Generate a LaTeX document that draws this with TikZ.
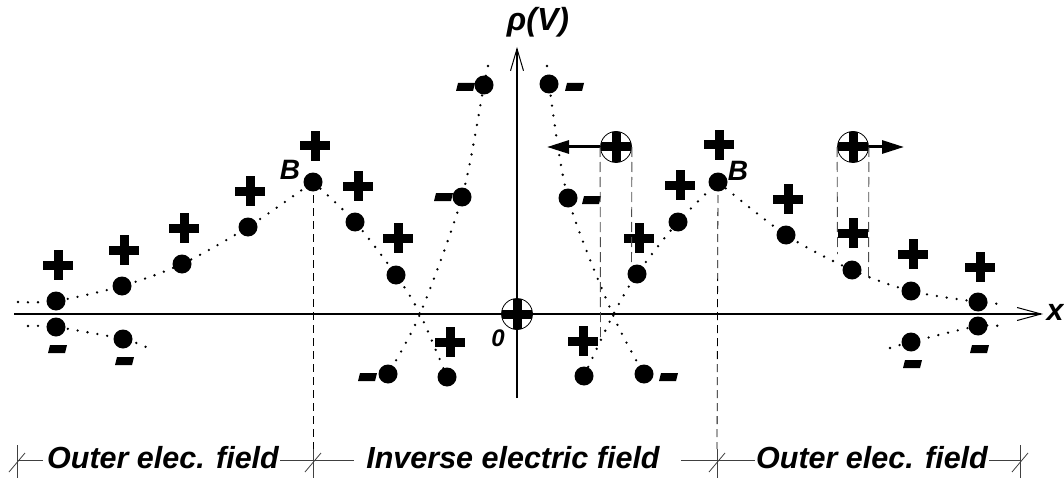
\documentclass[tikz,border=0pt]{standalone}
\usepackage{fontspec}
\setmainfont{Liberation Sans}
\usetikzlibrary{arrows.meta}
\begin{document}
\begin{tikzpicture}[x=1pt,y=-1pt,
  dot/.style={circle,fill=black,inner sep=0pt,minimum size=19pt},
  dotline/.style={line width=2.6pt,line cap=round,dash pattern=on 0pt off 10pt},
  axis/.style={line width=1.3pt},
  bdash/.style={line width=0.8pt,dash pattern=on 8pt off 5pt},
  gdash/.style={line width=0.9pt,draw=black!70,dash pattern=on 10pt off 5pt},
  dimline/.style={line width=0.8pt,draw=black!75},
  lbl/.style={font=\fontsize{30.5}{34}\selectfont\bfseries\itshape,inner sep=0pt},
  charge/.style={circle,draw=black,line width=0.8pt,inner sep=0pt,minimum size=31pt,
    path picture={\fill ([xshift=-15.5pt,yshift=-4.5pt]path picture bounding box.center) rectangle ++(31pt,9pt);
                  \fill ([xshift=-4.5pt,yshift=-15.5pt]path picture bounding box.center) rectangle ++(9pt,31pt);}},
  move/.style={line width=3pt,-{Triangle[length=22pt,width=13pt]}},
  pics/pplus/.style={code={\fill (-15,-4.5) rectangle (15,4.5); \fill (-4.5,-15) rectangle (4.5,15);}},
  pics/mminus/.style={code={\fill (-9,4) -- (8,4) -- (10,-4) -- (-7,-4) -- cycle;}}
]
\useasboundingbox (0,0) rectangle (1064,481);

% positions
\coordinate (e0) at (18,302);   \coordinate (a1) at (56,301);  \coordinate (a2) at (122,286);
\coordinate (a3) at (182,264);  \coordinate (a4) at (248,227); \coordinate (BL) at (313,182);
\coordinate (b1) at (355,222);  \coordinate (b2) at (396,275); \coordinate (xl) at (420,314);
\coordinate (b3) at (447,377);
\coordinate (m0) at (488,66);   \coordinate (m1) at (484,85);  \coordinate (m2) at (462,197);
\coordinate (m3) at (388,374);
\coordinate (n0) at (547,66);   \coordinate (n1) at (549,84);  \coordinate (n2) at (568,198);
\coordinate (xr) at (613,315);  \coordinate (n3) at (644,374);
\coordinate (c3) at (584,376);  \coordinate (c2) at (637,274); \coordinate (c1) at (678,222);
\coordinate (BR) at (718,182);
\coordinate (d1) at (786,235);  \coordinate (d2) at (852,270); \coordinate (d3) at (911,291);
\coordinate (d4) at (978,302);  \coordinate (e1) at (1004,304);
\coordinate (f0) at (28,326);   \coordinate (g1) at (56,327);  \coordinate (g2) at (123,339);
\coordinate (f1) at (146,347);
\coordinate (h0) at (890,348);  \coordinate (k1) at (911,342); \coordinate (k2) at (978,326);
\coordinate (h1) at (1006,327);

% dotted curves
\draw[dotline] plot[smooth,tension=0.5] coordinates {(e0) (a1) (a2) (a3) (a4) (BL)};
\draw[dotline] plot[smooth,tension=0.5] coordinates {(BL) (b1) (b2) (xl) (b3)};
\draw[dotline] plot[smooth,tension=0.5] coordinates {(m0) (m1) (m2) (xl) (m3)};
\draw[dotline] plot[smooth,tension=0.5] coordinates {(n0) (n1) (n2) (xr) (n3)};
\draw[dotline] plot[smooth,tension=0.5] coordinates {(c3) (xr) (c2) (c1) (BR)};
\draw[dotline] plot[smooth,tension=0.5] coordinates {(BR) (d1) (d2) (d3) (d4) (e1)};
\draw[dotline] plot[smooth,tension=0.5] coordinates {(f0) (g1) (g2) (f1)};
\draw[dotline] plot[smooth,tension=0.5] coordinates {(h0) (k1) (k2) (h1)};

% axes
\coordinate (xa0) at (14,314);  \coordinate (xa1) at (1043,314);
\coordinate (ya0) at (517,398); \coordinate (ya1) at (517,47);
\draw[axis,-{Straight Barb[length=24pt,width=13pt,line width=1pt]}] (xa0) -- (xa1);
\draw[axis,-{Straight Barb[length=22pt,width=13pt,line width=1pt]}] (ya0) -- (ya1);
\node[lbl] (xlab) at (1055,312) {x};
\node[lbl,font=\fontsize{32}{36}\selectfont\bfseries\itshape] (ylab) at (538,22) {ρ(V)};
\node[lbl,font=\fontsize{24}{27}\selectfont\bfseries\itshape] (zero) at (498,338) {0};

% B dashed verticals
\coordinate (BLb) at (313,449); \coordinate (BRb) at (717,449);
\draw[bdash] (BL) -- (BLb);
\draw[bdash] (BR) -- (BRb);

% dots
\foreach \p in {a1,a2,a3,a4,BL,b1,b2,b3,m1,m2,m3,n1,n2,n3,c3,c2,c1,BR,d1,d2,d3,d4,g1,g2,k1,k2}
  \node[dot] (D\p) at (\p) {};

% plus charges
\foreach \x/\y in {58/265,124/250,184/228,250/191,315/146,358/186,398/238,450/342,
                   583/341,639/238,680/185,719/145,788/199,853/233,913/254,980/267}
  \pic at (\x,\y) {pplus};
% minus charges
\foreach \x/\y in {57/349,124/361,465/87,443/197,367/377,574/87,591/200,668/377,912/364,979/349}
  \pic at (\x,\y) {mminus};

% B labels
\node[lbl,font=\fontsize{28}{32}\selectfont\bfseries\itshape] (Bl) at (290,170) {B};
\node[lbl,font=\fontsize{28}{32}\selectfont\bfseries\itshape] (Br) at (738,171) {B};

% circled charges
\node[charge] (O) at (517,314) {};
\node[charge] (Q1) at (616,147) {};
\node[charge] (Q2) at (853,147) {};
\coordinate (Q1t) at (547,147); \coordinate (Q2t) at (904,147);
\draw[move] (Q1.west) -- (Q1t);
\draw[move] (Q2.east) -- (Q2t);
\coordinate (Q1a) at (600.5,338); \coordinate (Q1b) at (631.5,265);
\coordinate (Q2a) at (837.5,254); \coordinate (Q2b) at (868.5,277);
\draw[gdash] (Q1.west) -- (Q1a);
\draw[gdash] (Q1.east) -- (Q1b);
\draw[gdash] (Q2.west) -- (Q2a);
\draw[gdash] (Q2.east) -- (Q2b);

% dimension line
\foreach \n/\x in {t0/17,t1/313,t2/717,t3/1020} {
  \coordinate (\n) at (\x,460);
}
\draw[dimline] (17,445) -- (17,478);
\draw[dimline] (313,449) -- (313,478);
\draw[dimline] (717,449) -- (717,478);
\draw[dimline] (1020,445) -- (1020,478);
\foreach \x in {17,313,717,1020} \draw[dimline] (\x-8,472) -- (\x+8,453);
\node[lbl,anchor=base] (L1) at (163,468) {Outer elec. field};
\node[lbl,anchor=base] (L2) at (513,468) {Inverse electric field};
\node[lbl,anchor=base] (L3) at (872,468) {Outer elec. field};
\draw[dimline] (t0) -- ([xshift=-4pt]L1.west |- t0);
\draw[dimline] ([xshift=1pt]L1.east |- t0) -- (t1);
\draw[dimline] (t1) -- ([xshift=-12pt]L2.west |- t0);
\draw[dimline] ([xshift=21pt]L2.east |- t0) -- (t2);
\draw[dimline] (t2) -- ([xshift=-1pt]L3.west |- t0);
\draw[dimline] ([xshift=1pt]L3.east |- t0) -- (t3);
\end{tikzpicture}
\end{document}
